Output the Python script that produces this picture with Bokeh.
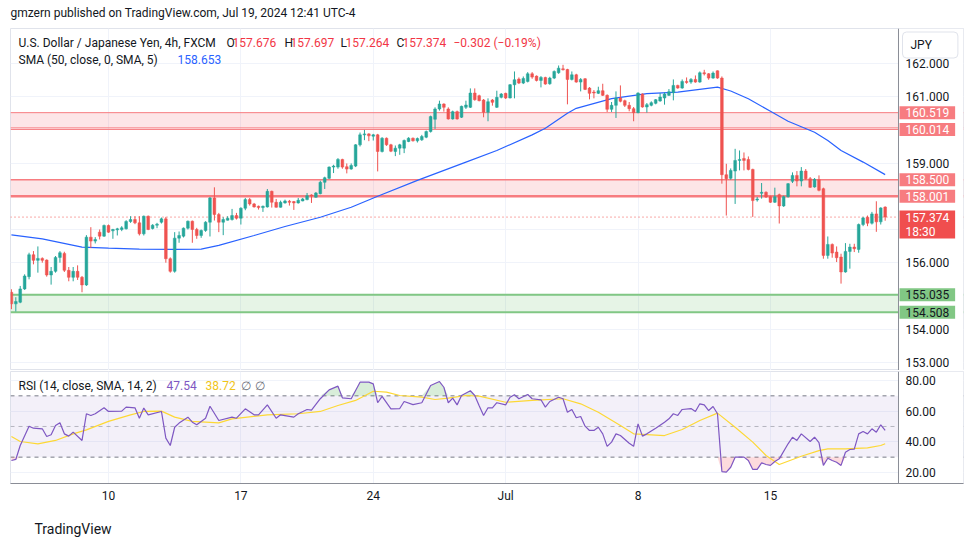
import numpy as np
from bokeh.plotting import figure
from bokeh.layouts import column
from bokeh.models import Range1d, FixedTicker, Label, Span, BoxAnnotation, NumeralTickFormatter
from bokeh.embed import file_html
from bokeh.resources import INLINE

FONT = "Roboto"
TXT = "#131722"
UP = "#26a69a"
DOWN = "#ef5350"

# ---------------- data (4h bars, index 0 = Jun 5) ----------------
opens = [
    155.11, 154.76, 154.81, 155.21, 155.58, 156.24, 156.07, 156.13, 156.08, 155.63,
    155.74, 156.16, 156.28, 155.77, 155.56, 155.74, 155.56, 155.33, 156.77, 156.65,
    156.92, 156.80, 157.12, 156.96, 157.00, 157.00, 157.02, 157.24, 157.30, 157.20,
    156.87, 157.40, 157.03, 157.13, 157.22, 157.32, 156.12, 155.74, 156.74, 156.80,
    157.04, 157.25, 157.00, 156.82, 156.97, 157.22, 157.95, 157.45, 157.22, 157.28,
    157.30, 157.42, 157.34, 157.64, 157.90, 157.77, 157.70, 157.66, 157.68, 158.15,
    157.82, 157.67, 157.80, 157.85, 157.84, 157.80, 157.86, 157.90, 158.04, 157.97,
    158.08, 158.42, 158.54, 158.88, 158.88, 159.11, 158.89, 158.82, 158.91, 159.55,
    159.85, 159.88, 159.81, 159.85, 159.35, 159.75, 159.55, 159.35, 159.45, 159.45,
    159.65, 159.75, 159.67, 159.70, 159.78, 159.95, 160.32, 160.63, 160.78, 160.63,
    160.33, 160.55, 160.38, 160.68, 160.68, 161.11, 161.03, 160.90, 160.53, 160.90,
    160.68, 160.98, 161.10, 160.96, 161.36, 161.53, 161.41, 161.46, 161.69, 161.62,
    161.49, 161.58, 161.39, 161.56, 161.72, 161.84, 161.82, 161.52, 161.66, 161.44,
    161.54, 161.26, 161.14, 161.10, 161.18, 161.04, 160.62, 160.74, 160.96, 160.88,
    160.74, 160.64, 160.52, 161.08, 160.69, 160.74, 160.80, 160.87, 160.96, 161.04,
    161.12, 161.34, 161.26, 161.46, 161.44, 161.52, 161.44, 161.72, 161.69, 161.56,
    161.78, 161.56, 158.65, 158.54, 158.76, 159.08, 159.14, 159.11, 158.81, 157.89,
    158.09, 158.12, 157.99, 157.82, 158.05, 157.71, 157.99, 158.45, 158.63, 158.46,
    158.76, 158.53, 158.28, 158.50, 158.23, 156.22, 156.55, 156.32, 156.17, 155.72,
    156.34, 156.47, 156.40, 157.15, 157.37, 157.19, 157.47, 157.23, 157.676,
]
highs = [
    155.20, 154.96, 155.30, 155.65, 156.30, 156.35, 156.49, 156.16, 156.10, 155.87,
    156.20, 156.35, 156.33, 155.87, 155.87, 155.92, 155.60, 156.83, 157.07, 156.77,
    157.00, 157.15, 157.15, 157.02, 157.05, 157.10, 157.28, 157.40, 157.40, 157.40,
    157.42, 157.42, 157.16, 157.20, 157.36, 157.38, 156.16, 156.92, 156.94, 157.06,
    157.27, 157.27, 157.05, 157.00, 157.25, 157.98, 158.27, 157.50, 157.37, 157.40,
    157.62, 157.50, 157.67, 157.95, 157.95, 157.80, 157.72, 157.72, 158.22, 158.17,
    157.92, 157.87, 157.90, 157.89, 157.86, 157.95, 157.95, 158.10, 158.06, 158.13,
    158.47, 158.59, 158.90, 158.95, 159.15, 159.13, 158.99, 158.99, 159.57, 159.92,
    160.00, 159.90, 159.88, 159.88, 159.78, 159.77, 159.58, 159.53, 159.58, 159.71,
    159.78, 159.77, 159.77, 159.85, 159.98, 160.43, 160.68, 160.88, 160.80, 160.68,
    160.58, 160.58, 160.73, 160.88, 161.25, 161.25, 161.06, 160.93, 160.95, 160.93,
    161.18, 161.11, 161.12, 161.38, 161.76, 161.58, 161.61, 161.74, 161.74, 161.64,
    161.62, 161.60, 161.60, 161.79, 161.94, 161.96, 161.84, 161.76, 161.69, 161.56,
    161.56, 161.29, 161.20, 161.30, 161.39, 161.07, 160.84, 161.16, 161.34, 160.91,
    160.84, 160.69, 161.13, 161.10, 160.81, 160.86, 160.93, 161.11, 161.13, 161.23,
    161.52, 161.36, 161.52, 161.58, 161.56, 161.64, 161.76, 161.81, 161.71, 161.76,
    161.79, 161.61, 158.98, 158.84, 159.43, 159.38, 159.32, 159.20, 158.83, 157.98,
    158.40, 158.15, 158.02, 158.26, 158.08, 158.02, 158.40, 158.72, 158.76, 158.88,
    158.82, 158.58, 158.55, 158.63, 158.26, 156.79, 156.58, 156.49, 156.27, 156.59,
    156.57, 156.57, 157.18, 157.38, 157.42, 157.53, 157.85, 157.67, 157.697,
]
lows = [
    154.60, 154.53, 154.78, 155.18, 155.50, 155.95, 155.70, 156.00, 155.58, 155.34,
    155.70, 156.00, 155.72, 155.44, 155.44, 155.48, 155.11, 155.30, 156.44, 156.58,
    156.70, 156.78, 156.90, 156.72, 156.82, 156.95, 157.00, 157.20, 157.16, 156.82,
    156.82, 156.98, 157.00, 157.04, 157.18, 156.00, 155.70, 155.70, 156.60, 156.76,
    157.00, 156.60, 156.72, 156.75, 156.93, 156.79, 157.27, 156.92, 156.83, 157.27,
    157.27, 157.30, 157.15, 157.58, 157.72, 157.66, 157.60, 157.53, 157.66, 157.66,
    157.66, 157.66, 157.78, 157.72, 157.59, 157.78, 157.85, 157.88, 157.80, 157.96,
    158.06, 158.22, 158.52, 158.70, 158.83, 158.83, 158.69, 158.80, 158.88, 159.50,
    159.69, 159.66, 159.68, 158.75, 159.32, 159.52, 159.33, 159.21, 159.25, 159.30,
    159.63, 159.65, 159.62, 159.67, 159.75, 159.92, 160.03, 160.58, 160.55, 160.31,
    160.31, 160.31, 160.36, 160.63, 160.66, 160.88, 160.86, 160.38, 160.26, 160.73,
    160.66, 160.95, 160.93, 160.95, 160.95, 161.38, 161.38, 161.43, 161.54, 161.46,
    161.28, 161.36, 161.36, 161.53, 161.69, 161.79, 160.77, 161.49, 161.42, 161.16,
    161.20, 160.92, 160.95, 161.08, 161.02, 160.54, 160.54, 160.36, 160.83, 160.69,
    160.56, 160.26, 160.50, 160.67, 160.52, 160.71, 160.77, 160.85, 160.76, 161.02,
    160.89, 161.24, 161.24, 161.39, 161.39, 161.42, 161.42, 161.64, 161.51, 161.54,
    161.54, 158.38, 157.42, 158.50, 157.77, 158.78, 158.78, 158.78, 157.38, 157.84,
    157.93, 157.95, 157.80, 157.80, 157.18, 157.68, 157.96, 158.40, 158.30, 158.30,
    158.50, 158.25, 158.26, 158.15, 156.12, 156.12, 156.15, 156.02, 155.37, 155.70,
    155.82, 156.32, 156.30, 157.10, 157.10, 157.15, 156.93, 157.15, 157.264,
]
closes = [
    154.76, 154.83, 155.21, 155.60, 156.24, 156.07, 156.13, 156.07, 155.63, 155.74,
    156.16, 156.30, 155.77, 155.56, 155.74, 155.56, 155.33, 156.77, 156.65, 156.70,
    156.80, 157.12, 156.92, 157.00, 157.02, 157.05, 157.24, 157.30, 157.20, 156.87,
    157.40, 157.00, 157.13, 157.16, 157.32, 156.12, 155.74, 156.74, 156.82, 157.04,
    157.25, 157.00, 156.82, 156.97, 157.22, 157.95, 157.45, 157.22, 157.30, 157.34,
    157.42, 157.34, 157.64, 157.90, 157.77, 157.68, 157.66, 157.70, 158.15, 157.82,
    157.67, 157.82, 157.86, 157.83, 157.80, 157.88, 157.92, 158.02, 158.02, 158.10,
    158.42, 158.56, 158.88, 158.91, 159.11, 158.88, 158.82, 158.93, 159.55, 159.85,
    159.88, 159.82, 159.85, 159.35, 159.75, 159.55, 159.36, 159.45, 159.55, 159.68,
    159.75, 159.67, 159.74, 159.80, 159.95, 160.40, 160.63, 160.78, 160.68, 160.33,
    160.55, 160.33, 160.71, 160.75, 161.11, 160.91, 160.88, 160.53, 160.85, 160.83,
    160.98, 161.08, 160.96, 161.36, 161.51, 161.41, 161.55, 161.69, 161.59, 161.49,
    161.58, 161.38, 161.56, 161.76, 161.86, 161.81, 161.52, 161.66, 161.44, 161.52,
    161.22, 161.10, 161.11, 161.18, 161.04, 160.62, 160.74, 160.96, 160.86, 160.74,
    160.64, 160.52, 161.11, 160.69, 160.76, 160.82, 160.91, 160.99, 161.08, 161.15,
    161.34, 161.26, 161.46, 161.44, 161.52, 161.44, 161.72, 161.69, 161.56, 161.71,
    161.56, 158.65, 158.53, 158.78, 159.08, 159.11, 159.08, 158.81, 157.87, 157.92,
    158.12, 157.98, 157.82, 157.99, 157.71, 157.99, 158.38, 158.63, 158.46, 158.76,
    158.53, 158.27, 158.51, 158.18, 156.22, 156.55, 156.29, 156.15, 155.72, 156.34,
    156.47, 156.42, 157.15, 157.35, 157.19, 157.47, 157.23, 157.65, 157.374,
]

# SMA(50): (bar, value)
sma_points = [
    (0, 156.84), (7, 156.72), (16, 156.47), (22, 156.44), (29, 156.41), (37, 156.40),
    (43, 156.41), (47, 156.52), (55, 156.82), (62, 157.09), (70, 157.37), (77, 157.67),
    (83, 158.00), (92, 158.48), (103, 159.03), (110, 159.38), (118, 159.85), (121, 160.05),
    (126, 160.50), (128, 160.65), (136, 160.94), (144, 161.09), (151, 161.14), (160, 161.29),
    (163, 161.17), (167, 160.94), (172, 160.56), (176, 160.26), (182, 159.93), (185, 159.68),
    (188, 159.38), (193, 159.03), (198, 158.653),
]

# RSI(14): (bar, value)
rsi_points = [
    (0, 27.8), (1, 28.5), (2, 37.6), (4, 50.2), (5, 48.9), (7, 48.5), (8, 43.5), (9, 44.6),
    (10, 50.6), (11, 52.4), (12, 45.2), (13, 43.7), (14, 46.3), (16, 40.9), (17, 58.3),
    (18, 57.2), (19, 58.3), (21, 62.2), (22, 59.8), (25, 60.0), (26, 62.6), (28, 62.2),
    (29, 55.4), (30, 62.0), (31, 57.6), (34, 59.8), (35, 42.4), (36, 37.6), (37, 49.5),
    (38, 52.2), (40, 56.1), (41, 52.8), (42, 51.1), (44, 55.4), (45, 63.2), (47, 53.9),
    (50, 56.1), (51, 55.4), (53, 61.5), (55, 57.6), (56, 57.6), (58, 64.1), (60, 55.4),
    (61, 57.6), (64, 56.1), (65, 58.3), (67, 61.1), (68, 60.7), (70, 68.1), (72, 73.9),
    (74, 76.3), (75, 68.7), (77, 68.1), (78, 73.5), (79, 78.9), (81, 78.9), (82, 77.8),
    (83, 65.5), (84, 69.6), (86, 61.5), (88, 61.7), (89, 66.3), (91, 64.3), (93, 65.5),
    (95, 76.7), (97, 79.3), (98, 75.6), (99, 65.5), (100, 68.5), (101, 64.1), (102, 70.2),
    (104, 73.3), (105, 70.2), (106, 63.5), (107, 57.2), (108, 62.2), (109, 62.2), (110, 65.5),
    (112, 64.1), (113, 69.1), (114, 70.7), (115, 68.1), (117, 70.9), (118, 68.1), (120, 67.4),
    (121, 62.6), (122, 66.3), (124, 69.1), (125, 68.1), (126, 59.3), (127, 61.1), (128, 55.7),
    (129, 56.5), (130, 50.2), (131, 47.4), (132, 47.4), (133, 49.5), (134, 45.2), (135, 37.0),
    (136, 39.8), (137, 45.2), (138, 44.1), (140, 39.1), (141, 37.1), (142, 51.7), (143, 43.7),
    (144, 45.2), (146, 48.9), (148, 52.8), (149, 55.0), (150, 58.3), (151, 57.2), (152, 61.1),
    (154, 61.7), (155, 59.8), (156, 64.8), (157, 64.1), (158, 60.4), (159, 63.0), (160, 58.3),
    (161, 20.6), (162, 20.2), (163, 23.4), (164, 30.0), (166, 30.0), (167, 27.8), (168, 22.0),
    (169, 22.0), (170, 26.3), (171, 25.2), (172, 24.6), (173, 27.2), (174, 28.9), (176, 38.7),
    (177, 43.0), (178, 40.9), (179, 45.2), (181, 40.2), (182, 43.0), (183, 39.4), (184, 24.6),
    (185, 29.3), (186, 27.8), (187, 26.7), (188, 24.6), (189, 33.2), (190, 35.0), (191, 35.2),
    (192, 45.2), (193, 46.7), (194, 45.2), (195, 48.5), (196, 46.3), (197, 51.1), (198, 47.54),
]

# RSI-based MA (14): (bar, value)
rsi_ma_points = [
    (0, 43.5), (2, 40.2), (6, 38.7), (10, 40.9), (14, 45.2), (17, 47.8), (22, 53.3), (27, 57.6),
    (30, 59.8), (34, 60.0), (37, 56.1), (41, 53.3), (47, 52.4), (50, 55.0), (58, 57.6),
    (65, 58.3), (70, 59.8), (74, 63.7), (78, 67.0), (82, 73.0), (85, 72.4), (88, 70.2),
    (93, 69.1), (96, 67.6), (99, 68.5), (103, 70.2), (106, 69.8), (112, 65.8), (118, 67.0),
    (125, 68.1), (129, 64.8), (133, 59.3), (138, 50.6), (141, 45.2), (148, 44.1), (152, 48.0),
    (156, 53.9), (160, 58.7), (164, 49.5), (168, 39.8), (171, 31.1), (174, 25.2), (179, 30.6),
    (183, 34.3), (185, 35.4), (189, 35.4), (194, 36.1), (197, 37.6), (198, 38.72),
]

date_ticks = [22, 52, 82, 112, 142, 172]
date_labels = ["10", "17", "24", "Jul", "8", "15"]
price_ticks = [153, 154, 156, 159, 161, 162]
price_grid = [153, 154, 155, 156, 157, 158, 159, 160, 161, 162]
rsi_ticks = [20, 40, 60, 80]

upper_zone = (160.519, 160.06)
upper_line = 160.014
lower_zone = (158.500, 158.001)
support_zone = (155.035, 154.508)
last_price = 157.374
countdown = "18:30"
ohlc_text = ["157.676", "157.697", "157.264", "157.374"]
change_text = "\u22120.302 (\u22120.19%)"
sma_last = "158.653"
rsi_last = "47.54"
rsi_ma_last = "38.72"

# ---------------- geometry ----------------
X0 = -0.204          # left edge of the plot
SCALE_X = 201.02     # where the price scale starts
X1 = 215.75          # right edge (end of price-scale column)
XR = Range1d(X0, X1)
PX_PER_PRICE = 33.2  # vertical pixels per yen in the main pane
PINK_LINE = "#f77c80"
GREEN_LINE = "#81c784"
AXIS_GREY = "#8a8d96"
GRID = "#f0f3fa"

def style_scale_axis(ax, fmt, ticks):
    ax.ticker = FixedTicker(ticks=ticks)
    ax.formatter = NumeralTickFormatter(format=fmt)
    ax.major_label_text_font = FONT
    ax.major_label_text_font_size = "12px"
    ax.major_label_text_color = TXT
    ax.major_tick_out = 0
    ax.major_tick_in = 0
    ax.minor_tick_out = 0
    ax.minor_tick_in = 0
    ax.major_label_standoff = -58
    ax.axis_line_color = None

def lab(x, y, text, color=TXT, size="12px"):
    return Label(x=x, y=y, x_units="screen", y_units="screen", text=text,
                 text_font=FONT, text_font_size=size, text_color=color,
                 text_baseline="middle", text_align="left")

# ---------------- main pane ----------------
o = np.array(opens); h = np.array(highs); l = np.array(lows); c = np.array(closes)
idx = np.arange(len(c))
colors = np.where(c >= o, UP, DOWN).tolist()
body_top = np.maximum(o, c)
body_bot = np.minimum(np.minimum(o, c), body_top - 0.03)

p = figure(width=965, height=370, x_range=XR, y_range=Range1d(152.753, 163.054),
           y_axis_location="right", x_axis_location=None,
           output_backend="svg", toolbar_location=None,
           min_border_left=10, min_border_right=2, min_border_top=28, min_border_bottom=0)
p.outline_line_color = "#e0e3eb"
p.background_fill_color = "white"
p.border_fill_color = "white"
p.ygrid.ticker = FixedTicker(ticks=price_grid)
p.xgrid.ticker = FixedTicker(ticks=date_ticks)
p.grid.grid_line_color = GRID
style_scale_axis(p.yaxis[0], "0.000", price_ticks)

for top, bot, fc, fa in [(upper_zone[0], upper_zone[1], "#f23645", 0.13),
                         (lower_zone[0], lower_zone[1], "#f23645", 0.13),
                         (support_zone[0], support_zone[1], "#4caf50", 0.14)]:
    p.add_layout(BoxAnnotation(top=top, bottom=bot, fill_color=fc, fill_alpha=fa,
                               line_color=None, level="underlay"))
for loc, col, w in [(upper_zone[0], PINK_LINE, 1), (upper_zone[1], PINK_LINE, 1),
                    (upper_line, PINK_LINE, 1), (lower_zone[0], PINK_LINE, 1.5),
                    (lower_zone[1], PINK_LINE, 2.5), (support_zone[0], GREEN_LINE, 2),
                    (support_zone[1], GREEN_LINE, 2)]:
    p.add_layout(Span(location=loc, dimension="width", line_color=col, line_width=w, level="underlay"))
p.add_layout(Span(location=last_price, dimension="width", line_color=DOWN, line_width=1,
                  line_dash="1 3", level="underlay"))
# price-scale column background
p.add_layout(BoxAnnotation(left=SCALE_X, fill_color="white", fill_alpha=1.0,
                           line_color=None, level="underlay"))
p.add_layout(Span(location=SCALE_X, dimension="height", line_color=AXIS_GREY,
                  line_width=1, level="guide"))

sx, sy = zip(*sma_points)
p.line(list(sx), list(sy), line_color="#2962ff", line_width=1.2)

p.segment(x0=idx, y0=l, x1=idx, y1=h, line_color=colors, line_width=1)
p.vbar(x=idx, top=body_top, bottom=body_bot, width=0.62, fill_color=colors,
       line_color=colors, line_width=0.5)

def tag(y, text, bg, fg="white", pad_bottom=2):
    # the padded box is centred on the anchor: shift it so the text sits on the price
    shift = (pad_bottom - 2) / 2.0 / PX_PER_PRICE
    p.add_layout(Label(x=SCALE_X, y=y - shift, x_offset=1, text=text,
                       text_font=FONT, text_font_size="12px", text_color=fg,
                       text_baseline="middle", text_align="left",
                       background_fill_color=bg, background_fill_alpha=(1.0 if bg else 0.0),
                       padding=dict(left=6, right=6, top=2, bottom=pad_bottom)))

tag(upper_line, "160.014", PINK_LINE)
tag(upper_zone[0], "160.519", PINK_LINE)
tag(lower_zone[1], "158.001", PINK_LINE)
tag(lower_zone[0], "158.500", PINK_LINE)
tag(last_price, "157.374", "#f04e4e", pad_bottom=17)
tag(last_price - 0.46, countdown, None)
tag(support_zone[1], "154.508", GREEN_LINE, fg=TXT)
tag(support_zone[0], "155.035", GREEN_LINE, fg=TXT)

# JPY button
p.add_layout(Label(x=892, y=325.5, x_units="screen", y_units="screen", text="JPY",
                   text_font=FONT, text_font_size="12px", text_color=TXT,
                   text_baseline="middle", background_fill_color="white",
                   border_line_color="#e0e3eb", border_line_width=1, border_radius=4,
                   padding=dict(left=8, right=26, top=6, bottom=6)))

p.above = [lab(0, 16, "gmzern published on TradingView.com, Jul 19, 2024 12:41 UTC-4")] + list(p.above)

p.add_layout(lab(8, 328, "U.S. Dollar / Japanese Yen, 4h, FXCM"))
RED_TXT = "#f23645"
for letter, lx, val, vx in [("O", 216, ohlc_text[0], 222), ("H", 274, ohlc_text[1], 280),
                            ("L", 330, ohlc_text[2], 335), ("C", 386, ohlc_text[3], 392)]:
    p.add_layout(lab(lx, 328, letter))
    p.add_layout(lab(vx, 328, val, RED_TXT))
p.add_layout(lab(443, 328, change_text, RED_TXT))
p.add_layout(lab(8, 311, "SMA (50, close, 0, SMA, 5)"))
p.add_layout(lab(167, 311, sma_last, "#2962ff"))

# ---------------- RSI pane ----------------
r = figure(width=965, height=167, x_range=XR, y_range=Range1d(12.81, 85.87),
           y_axis_location="right", output_backend="svg", toolbar_location=None,
           min_border_left=10, min_border_right=2, min_border_top=1, min_border_bottom=54)
r.outline_line_color = "#e0e3eb"
r.background_fill_color = "white"
r.border_fill_color = "white"
r.ygrid.ticker = FixedTicker(ticks=rsi_ticks)
r.xgrid.ticker = FixedTicker(ticks=date_ticks)
r.grid.grid_line_color = GRID
style_scale_axis(r.yaxis[0], "0.00", rsi_ticks)

rx = r.xaxis[0]
rx.ticker = FixedTicker(ticks=date_ticks)
rx.major_label_overrides = {t: s for t, s in zip(date_ticks, date_labels)}
rx.major_label_text_font = FONT
rx.major_label_text_font_size = "12px"
rx.major_label_text_color = TXT
rx.major_tick_out = 0
rx.major_tick_in = 0
rx.minor_tick_out = 0
rx.minor_tick_in = 0
rx.major_label_standoff = 5
rx.axis_line_color = AXIS_GREY

r.add_layout(BoxAnnotation(bottom=30, top=70, fill_color="#7e57c2", fill_alpha=0.09,
                           line_color=None, level="underlay"))
for lvl, alpha in [(70, 1.0), (50, 0.5), (30, 1.0)]:
    r.add_layout(Span(location=lvl, dimension="width", line_color="#787b86", line_alpha=alpha,
                      line_width=1, line_dash="4 4", level="underlay"))
r.add_layout(BoxAnnotation(left=SCALE_X, fill_color="white", fill_alpha=1.0,
                           line_color=None, level="underlay"))
r.add_layout(Span(location=SCALE_X, dimension="height", line_color=AXIS_GREY,
                  line_width=1, level="guide"))

rb, rv = zip(*rsi_points)
rb = np.array(rb, dtype=float); rv = np.array(rv)
r.varea(x=rb, y1=np.full(len(rb), 70.0), y2=np.maximum(rv, 70.0), fill_color="#4caf50", fill_alpha=0.22)
r.varea(x=rb, y1=np.minimum(rv, 30.0), y2=np.full(len(rb), 30.0), fill_color="#f23645", fill_alpha=0.18)
mb, mv = zip(*rsi_ma_points)
r.line(list(mb), list(mv), line_color="#fdd835", line_width=1.2)
r.line(rb, rv, line_color="#7e57c2", line_width=1.2)

r.add_layout(lab(8, 98, "RSI (14, close, SMA, 14, 2)"))
r.add_layout(lab(156, 98, rsi_last, "#7e57c2"))
r.add_layout(lab(195, 98, rsi_ma_last, "#f0c419"))
r.add_layout(lab(230, 98, "\u2205", "#6a6d78"))
r.add_layout(lab(244, 98, "\u2205", "#6a6d78"))
r.below = list(r.below) + [lab(24, -7, "TradingView", TXT, "14px")]

layout = column(p, r)
open("out.html", "w").write(file_html(layout, INLINE))
